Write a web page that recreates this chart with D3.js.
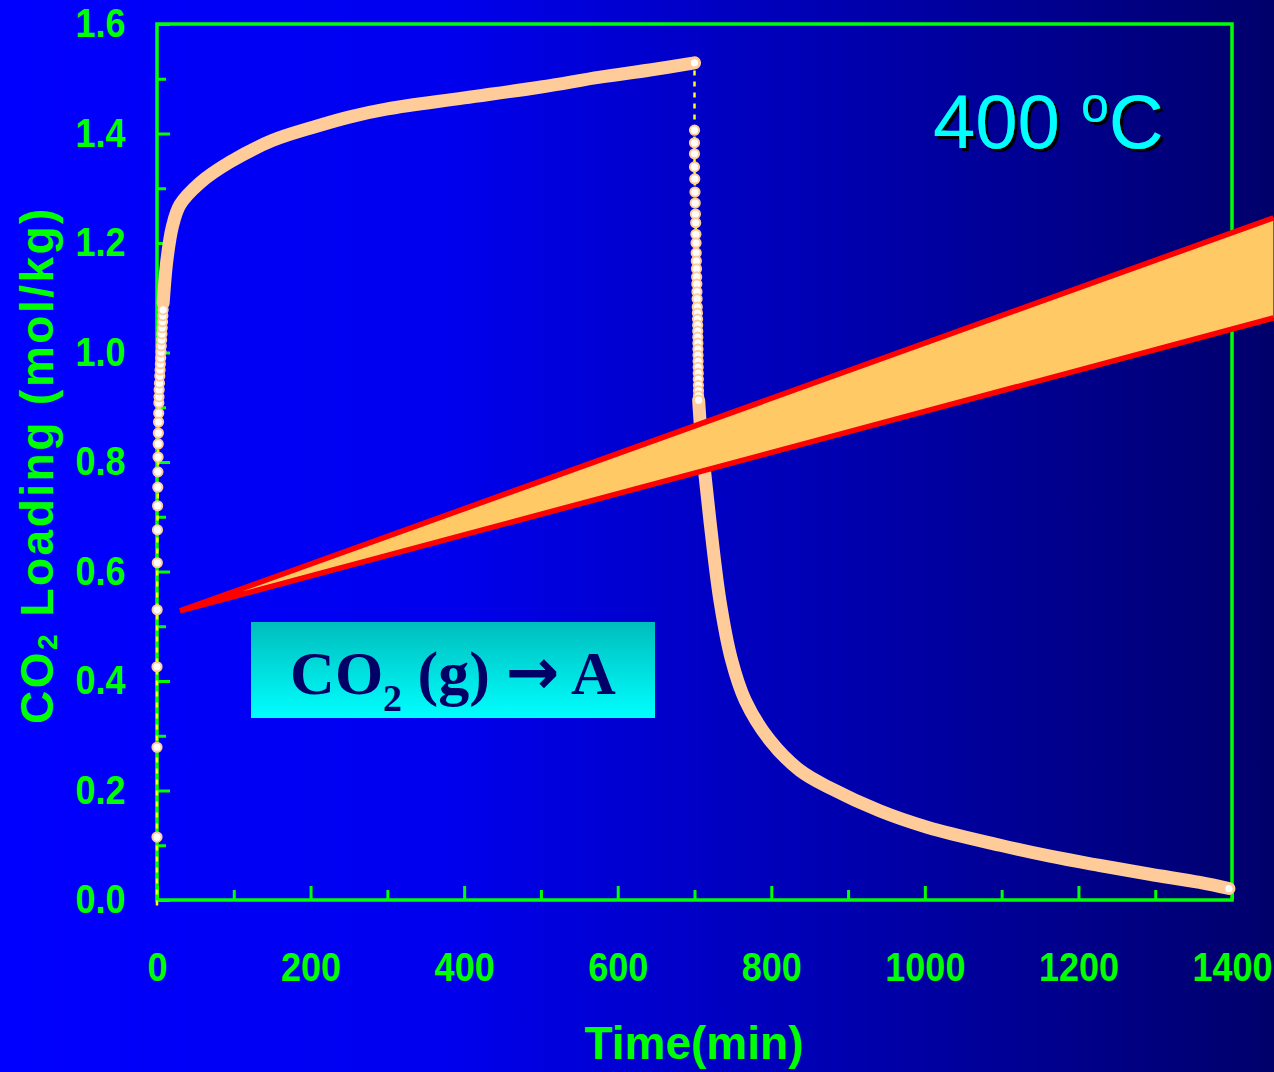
<!DOCTYPE html>
<html>
<head>
<meta charset="utf-8">
<script src="https://cdn.jsdelivr.net/npm/d3@7"></script>
<style>
  html, body { margin: 0; padding: 0; background: #0000ff; }
  svg { display: block; }
</style>
</head>
<body>
<div id="graph"></div>
<script>
// sparse points of the fast rise at t = 0
var riseTime = [0, 0, 0, 0, 0.2, 0.4, 0.6, 0.8, 1, 1.2, 1.4, 1.6, 1.8, 2, 2.2, 2.4, 2.6, 2.8, 3.2, 3.6, 4, 4.4, 4.8, 5.2, 5.6, 6, 6.4, 6.8, 7.2, 7.6, 8]
var riseLoad = [-0.01, 0.115, 0.279, 0.426, 0.530, 0.616, 0.676, 0.720, 0.754, 0.782, 0.809, 0.833, 0.853, 0.873, 0.889, 0.908, 0.919, 0.932, 0.944, 0.957, 0.968, 0.979, 0.990, 1.001, 1.012, 1.023, 1.034, 1.045, 1.056, 1.067, 1.078]
// dense adsorption curve
var adsTime = [8, 13, 20, 30, 56, 95, 150, 200, 250, 300, 400, 500, 577, 642, 700]
var adsLoad = [1.09, 1.17, 1.23, 1.27, 1.31, 1.348, 1.387, 1.41, 1.43, 1.445, 1.465, 1.485, 1.503, 1.516, 1.529]
// sparse points of the fast drop at t = 700
var dropTime = [700, 700, 700, 700, 700.3, 700.6, 700.9, 701.2, 701.5, 701.8, 702, 702.2, 702.4, 702.6, 702.8, 703, 703.2, 703.4, 703.6, 703.8, 704, 704.1, 704.2, 704.3, 704.4, 704.5, 704.6, 704.7, 704.8, 704.9, 705, 705.1, 705.2, 705.3, 705.4]
var dropLoad = [1.406, 1.383, 1.363, 1.339, 1.317, 1.293, 1.273, 1.253, 1.237, 1.216, 1.200, 1.182, 1.167, 1.153, 1.138, 1.125, 1.111, 1.098, 1.083, 1.072, 1.061, 1.050, 1.039, 1.028, 1.017, 1.006, 0.995, 0.984, 0.973, 0.962, 0.951, 0.940, 0.930, 0.921, 0.913]
// dense desorption curve
var desTime = [705.4, 708, 713, 720, 733, 748, 766, 798, 837, 876, 941, 1003, 1098, 1163, 1228, 1293, 1358, 1396]
var desLoad = [0.913, 0.86, 0.785, 0.694, 0.548, 0.44, 0.365, 0.292, 0.237, 0.205, 0.163, 0.133, 0.100, 0.080, 0.063, 0.047, 0.032, 0.021]

// the orange wedge, in data units
var wedgeTime = [30, 1454, 1454]
var wedgeLoad = [0.528, 1.246, 1.063]

var xMajor = [0, 200, 400, 600, 800, 1000, 1200, 1400]
var xMinor = [100, 300, 500, 700, 900, 1100, 1300]
var yMajor = [0, 0.2, 0.4, 0.6, 0.8, 1.0, 1.2, 1.4, 1.6]
var yMinor = [0.1, 0.3, 0.5, 0.7, 0.9, 1.1, 1.3, 1.5]

var W = 1274, H = 1072
var margin = { top: 24, right: 42, bottom: 172, left: 157 },
    width = W - margin.left - margin.right,
    height = H - margin.top - margin.bottom;

var green = "#00ff00"

var x = d3.scaleLinear().domain([0, 1400]).range([0, width])
var y = d3.scaleLinear().domain([0, 1.6]).range([height, 0])

var root = d3.select("#graph").append("svg")
    .attr("width", W)
    .attr("height", H)

var defs = root.append("defs")
var bg = defs.append("linearGradient").attr("id", "bg")
bg.append("stop").attr("offset", "0%").attr("stop-color", "#0000ff")
bg.append("stop").attr("offset", "35%").attr("stop-color", "#0000ee")
bg.append("stop").attr("offset", "100%").attr("stop-color", "#00006b")
var box = defs.append("linearGradient").attr("id", "box")
    .attr("x1", 0).attr("y1", 0).attr("x2", 0).attr("y2", 1)
box.append("stop").attr("offset", "0%").attr("stop-color", "#00bdbd")
box.append("stop").attr("offset", "100%").attr("stop-color", "#00ffff")
var shadow = defs.append("filter").attr("id", "shadow")
    .attr("x", "-10%").attr("y", "-10%").attr("width", "120%").attr("height", "130%")
shadow.append("feOffset").attr("in", "SourceAlpha").attr("dx", 3).attr("dy", 3).attr("result", "off")
shadow.append("feFlood").attr("flood-color", "#000000")
shadow.append("feComposite").attr("in2", "off").attr("operator", "in").attr("result", "sh")
var merge = shadow.append("feMerge")
merge.append("feMergeNode").attr("in", "sh")
merge.append("feMergeNode").attr("in", "SourceGraphic")

root.append("rect").attr("width", W).attr("height", H).attr("fill", "url(#bg)")

var svg = root.append("g")
    .attr("transform", "translate(" + margin.left + "," + margin.top + ")")

// frame
svg.append("rect")
    .attr("width", width).attr("height", height)
    .attr("fill", "none").attr("stroke", green).attr("stroke-width", 3.5)

function styleAxis(g) {
    g.select(".domain").remove()
    g.selectAll("line").attr("stroke", green).attr("stroke-width", 3)
    g.selectAll("text")
        .attr("fill", green)
        .style("font-family", "'Liberation Sans', Arial, sans-serif")
        .style("font-weight", "bold")
        .style("font-size", "40px")
        .attr("transform", "scale(0.9,1)")
}

// x axis, ticks pointing in
svg.append("g")
    .attr("transform", "translate(0," + height + ")")
    .call(d3.axisBottom(x).tickValues(xMajor).tickSize(-14).tickSizeOuter(0).tickPadding(53).tickFormat(d3.format("d")))
    .call(styleAxis)
svg.append("g")
    .attr("transform", "translate(0," + height + ")")
    .call(d3.axisBottom(x).tickValues(xMinor).tickSize(-10).tickSizeOuter(0).tickFormat(""))
    .call(styleAxis)

// y axis
svg.append("g")
    .call(d3.axisLeft(y).tickValues(yMajor).tickSize(-13).tickSizeOuter(0).tickPadding(35).tickFormat(d3.format(".1f")))
    .call(styleAxis)
svg.append("g")
    .call(d3.axisLeft(y).tickValues(yMinor).tickSize(-9).tickSizeOuter(0).tickFormat(""))
    .call(styleAxis)

// data
var rise = riseTime.map((t, i) => [t, riseLoad[i]])
var ads = adsTime.map((t, i) => [t, adsLoad[i]])
var drop = dropTime.map((t, i) => [t, dropLoad[i]])
var des = desTime.map((t, i) => [t, desLoad[i]])
var all = rise.concat(ads, drop, des)

var line = d3.line().x(d => x(d[0])).y(d => y(d[1]))
var smooth = d3.line().x(d => x(d[0])).y(d => y(d[1])).curve(d3.curveCatmullRom)

svg.append("path")
    .attr("d", line(all))
    .attr("fill", "none")
    .attr("stroke", "#ffff00")
    .attr("stroke-width", 2.5)
    .attr("stroke-dasharray", "5,6")

;[ads, des].forEach(function (s) {
    svg.append("path")
        .attr("d", smooth(s))
        .attr("fill", "none")
        .attr("stroke", "#ffcc99")
        .attr("stroke-width", 13)
        .attr("stroke-linecap", "round")
})

var marks = rise.slice(1).concat(drop, [ads[ads.length - 1], des[des.length - 1]])
svg.selectAll(".dot")
    .data(marks)
    .enter().append("circle")
    .attr("class", "dot")
    .attr("cx", d => x(d[0]))
    .attr("cy", d => y(d[1]))
    .attr("r", 4.6)
    .attr("fill", "#ffffff")
    .attr("stroke", "#ffcc99")
    .attr("stroke-width", 2)

// wedge annotation
var wedge = wedgeTime.map((t, i) => [x(t), y(wedgeLoad[i])])
svg.append("path")
    .attr("d", "M" + wedge.join("L") + "Z")
    .attr("fill", "#ffc966")
svg.append("path")
    .attr("d", "M" + wedge[1] + "L" + wedge[0] + "L" + wedge[2])
    .attr("fill", "none")
    .attr("stroke", "#ff0000")
    .attr("stroke-width", 5.5)
    .attr("stroke-linejoin", "miter")

// reaction box
root.append("rect")
    .attr("x", 251).attr("y", 622).attr("width", 404).attr("height", 96)
    .attr("fill", "url(#box)")
var rx = root.append("text")
    .attr("x", 453).attr("y", 694)
    .attr("text-anchor", "middle")
    .attr("fill", "#000066")
    .style("font-family", "'Liberation Serif', 'Times New Roman', serif")
    .style("font-weight", "bold")
    .style("font-size", "62px")
rx.append("tspan").text("CO")
rx.append("tspan").attr("dy", 17).style("font-size", "38px").text("2")
rx.append("tspan").attr("dy", -17).text(" (g) ")
rx.append("tspan").style("font-family", "'DejaVu Sans', sans-serif").style("font-size", "64px").text("\u2192")
rx.append("tspan").text(" A")

// temperature label with shadow
var tl = root.append("text")
    .attr("x", 933).attr("y", 148)
    .attr("fill", "#00ffff")
    .attr("filter", "url(#shadow)")
    .style("font-family", "'Liberation Sans', Arial, sans-serif")
    .style("font-size", "76px")
tl.append("tspan").text("400 ")
tl.append("tspan").attr("dy", -26).style("font-size", "50px").text("o")
tl.append("tspan").attr("dy", 26).text("C")

// axis titles
root.append("text")
    .attr("x", 694).attr("y", 1059)
    .attr("text-anchor", "middle")
    .attr("fill", green)
    .style("font-family", "'Liberation Sans', Arial, sans-serif")
    .style("font-weight", "bold")
    .style("font-size", "46px")
    .text("Time(min)")

var yt = root.append("text")
    .attr("transform", "translate(53,465) rotate(-90)")
    .attr("text-anchor", "middle")
    .attr("fill", green)
    .style("font-family", "'Liberation Sans', Arial, sans-serif")
    .style("font-weight", "bold")
    .style("font-size", "46px")
    .style("letter-spacing", "2.5px")
yt.append("tspan").text("CO")
yt.append("tspan").attr("dy", 4).style("font-size", "28px").text("2")
yt.append("tspan").attr("dy", -4).text(" Loading (mol/kg)")
</script>
</body>
</html>
